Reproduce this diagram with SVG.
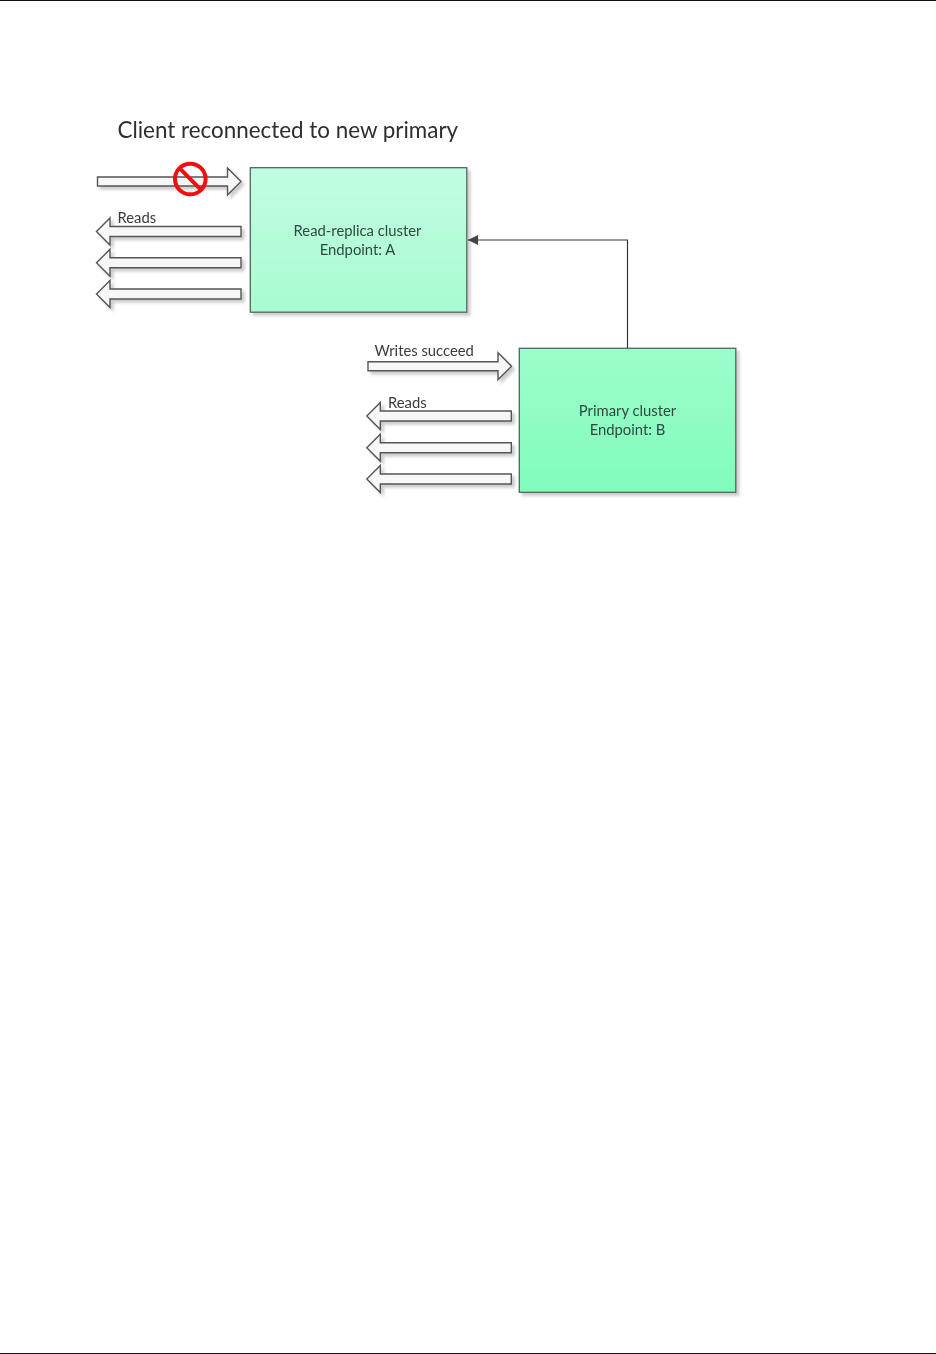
<svg xmlns="http://www.w3.org/2000/svg" width="936" height="1354" viewBox="0 0 936 1354">
<style>
text{font-family:"Lato","Carlito","Open Sans",sans-serif;fill:#3b3b3b}
.n{font-size:14.800px;text-anchor:middle;fill:#2f4a40}
.l{font-size:14.800px}
.t{font-size:22.400px;fill:#2e2e2e}
.a{fill:#f7f7f7;stroke:#555;stroke-width:1.400;filter:url(#sh)}
.b{stroke:#55635e;stroke-width:1.300;filter:url(#sh)}
</style>
<defs>
<filter id="sh" x="-10%" y="-30%" width="125%" height="170%"><feDropShadow dx="3" dy="3" stdDeviation="1.800" flood-color="#000" flood-opacity="0.2"/></filter>
<filter id="soft" x="0" y="0" width="100%" height="100%" filterUnits="userSpaceOnUse" primitiveUnits="userSpaceOnUse"><feGaussianBlur stdDeviation="0.350"/></filter>
<linearGradient id="ga" x1="0" y1="0" x2="0" y2="1"><stop offset="0" stop-color="#c2fde2"/><stop offset="1" stop-color="#a8fbd0"/></linearGradient>
<linearGradient id="gb" x1="0" y1="0" x2="0" y2="1"><stop offset="0" stop-color="#9dfdcb"/><stop offset="1" stop-color="#81fcbb"/></linearGradient>
<marker id="ah" markerUnits="userSpaceOnUse" markerWidth="11" markerHeight="10" refX="10" refY="5" orient="auto"><path d="M0 0L10 5L0 10Z" fill="#444"/></marker>
<path id="r" d="M0 -5V5H-131V13.500L-144.500 0L-131 -13.500V-5Z"/>
<path id="w" d="M0 -4.500V4.500H130V13.500L143.500 0L130 -13.500V-4.500Z"/>
</defs>
<rect width="936" height="1354" fill="#fff"/>
<rect x="0" y="0" width="936" height="1" fill="#111"/>
<rect x="0" y="1353" width="936" height="1" fill="#111"/>
<g filter="url(#soft)">
<text class="t" x="117.500" y="138">Client reconnected to new primary</text>
<g id="connectors">
<path d="M627.500 348V240H468" fill="none" stroke="#333" stroke-width="1.200" marker-end="url(#ah)"/>
</g>
<g id="node-a">
<rect class="b" x="250.300" y="167.700" width="216.500" height="144.500" fill="url(#ga)"/>
<text class="n" x="357.500" y="235.500">Read-replica cluster</text>
<text class="n" x="357.500" y="254.500">Endpoint: A</text>
</g>
<g id="node-b">
<rect class="b" x="519.300" y="348.300" width="216.500" height="144" fill="url(#gb)"/>
<text class="n" x="627.500" y="415.500">Primary cluster</text>
<text class="n" x="627.500" y="434.500">Endpoint: B</text>
</g>
<g id="arrows-a">
<use class="a" href="#w" x="97.500" y="181.500"/>
<use class="a" href="#r" x="241" y="231.500"/>
<use class="a" href="#r" x="241" y="262.700"/>
<use class="a" href="#r" x="241" y="294"/>
<text class="l" x="117.500" y="222.500">Reads</text>
</g>
<g id="blocked">
<circle cx="190.300" cy="179" r="15.300" fill="none" stroke="#f40b10" stroke-width="4"/>
<path d="M179.500 168.200L201 189.800" stroke="#f40b10" stroke-width="4"/>
</g>
<g id="arrows-b">
<use class="a" href="#w" x="368" y="366.300"/>
<use class="a" href="#r" x="511.300" y="416"/>
<use class="a" href="#r" x="511.300" y="447.700"/>
<use class="a" href="#r" x="511.300" y="479"/>
<text class="l" x="374.500" y="355.500">Writes succeed</text>
<text class="l" x="388" y="407.500">Reads</text>
</g>
</g>
</svg>
